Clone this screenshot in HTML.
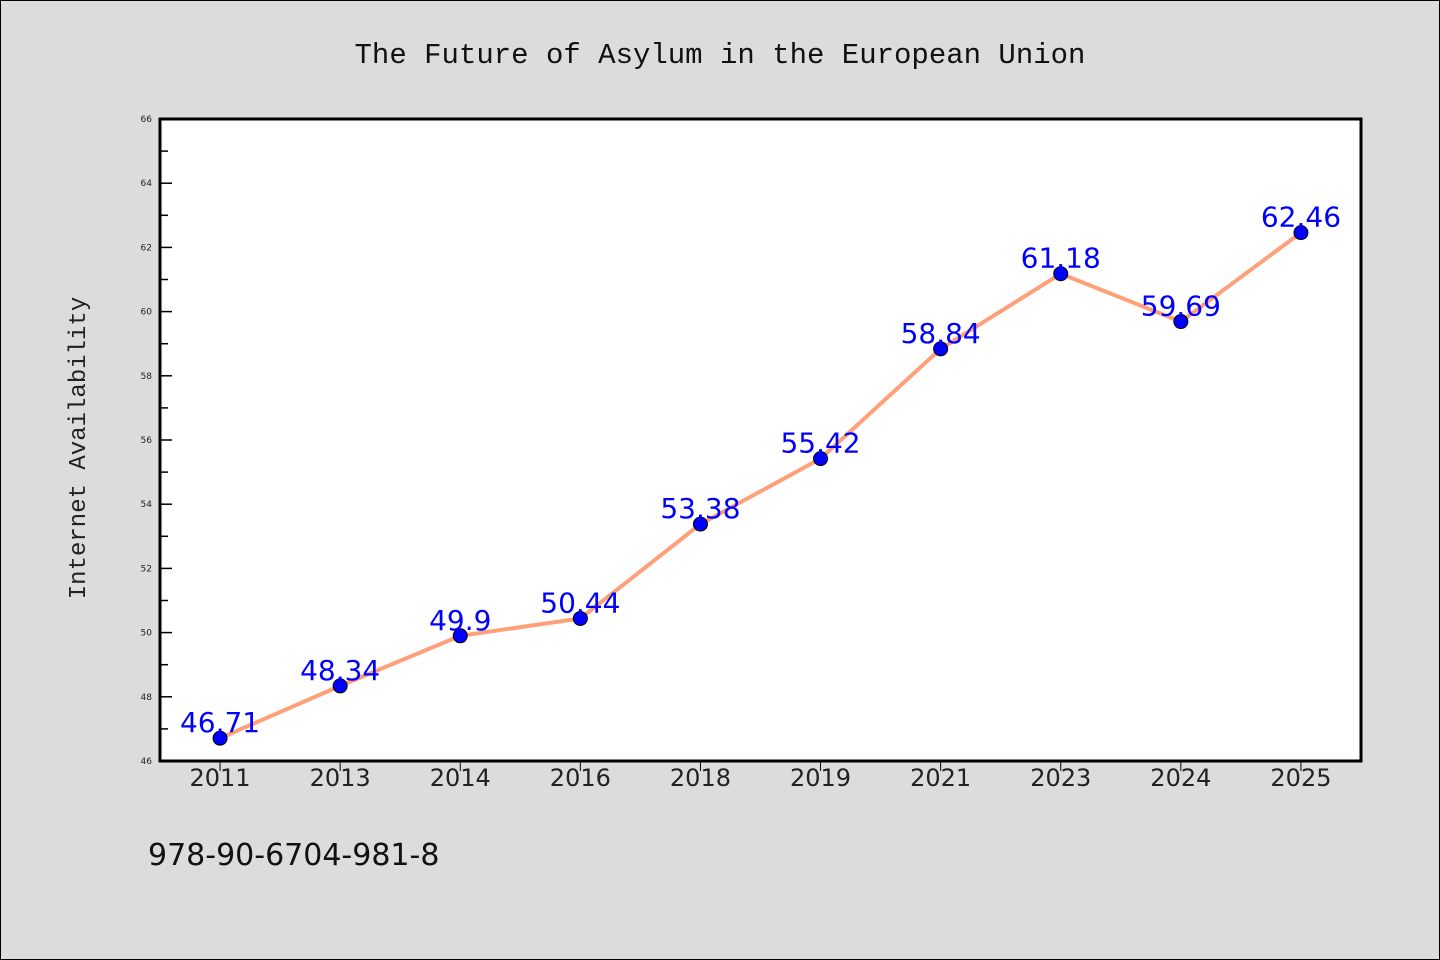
<!DOCTYPE html>
<html><head><meta charset="utf-8"><style>
html,body{margin:0;padding:0;background:#dcdcdc;}
svg{display:block;font-family:"WenQuanYi Zen Hei","DejaVu Sans",sans-serif;}
</style></head><body>
<svg id="c" width="1440" height="960" xmlns="http://www.w3.org/2000/svg">
<rect x="0.5" y="0.5" width="1439" height="959" fill="#dcdcdc" stroke="#000"/>
<text x="720" y="63" text-anchor="middle" font-size="29" fill="#111" font-family="'Liberation Mono','WenQuanYi Zen Hei',monospace">The Future of Asylum in the European Union</text>
<rect x="160" y="119" width="1201" height="642" fill="#fff"/>
<g id="axes"></g>
<g id="marks"></g>
<rect x="160" y="119" width="1201" height="642" fill="none" stroke="#000" stroke-width="3"/>
<text transform="translate(85,448) rotate(-90)" text-anchor="middle" font-size="24" fill="#222" font-family="'Liberation Mono','WenQuanYi Zen Hei',monospace">Internet Availability</text>
<text x="148" y="865" font-size="30" fill="#111">978-90-6704-981-8</text>
</svg>
<script>
const categories = ["2011","2013","2014","2016","2018","2019","2021","2023","2024","2025"];
const values = [46.71,48.34,49.9,50.44,53.38,55.42,58.84,61.18,59.69,62.46];
const labels = ["46.71","48.34","49.9","50.44","53.38","55.42","58.84","61.18","59.69","62.46"];
const yTicks = [46,48,50,52,54,56,58,60,62,64,66];
const NS="http://www.w3.org/2000/svg";
const L=160,R=1361,T=119,B=761,yMin=46,yMax=66;
const band=(R-L)/categories.length;
const xs=i=>L+band*(i+0.5);
const ys=v=>B-(v-yMin)/(yMax-yMin)*(B-T);
function mk(tag,attrs,parent){const e=document.createElementNS(NS,tag);for(const k in attrs)e.setAttribute(k,attrs[k]);parent.appendChild(e);return e;}
const axes=document.getElementById('axes'),marks=document.getElementById('marks');
yTicks.forEach((t,i)=>{
  const y=ys(t);
  const ln=mk('line',{x1:L,x2:L+12,y1:y,y2:y,stroke:'#000','stroke-width':1.5},axes);
  
  
  const tx=mk('text',{x:L-8,y:y+3,'text-anchor':'end','font-size':9,fill:'#222'},axes);
  tx.textContent=t;
  
  
  if(i<yTicks.length-1){
    const ym=ys(t+(yTicks[i+1]-t)/2);
    const mn=mk('line',{x1:L,x2:L+8,y1:ym,y2:ym,stroke:'#000','stroke-width':1.5},axes);
    
    
  }
});
categories.forEach((c,i)=>{
  const x=xs(i);
  const ln=mk('line',{x1:x,x2:x,y1:B,y2:B+10,stroke:'#000','stroke-width':1},axes);
  
  
  const tx=mk('text',{x:x,y:B+25,'text-anchor':'middle','font-size':24,fill:'#222'},axes);
  tx.textContent=c;
  
  
});
const pl=mk('polyline',{points:values.map((v,i)=>xs(i)+','+ys(v)).join(' '),fill:'none',stroke:'#ffa07a','stroke-width':4},marks);


values.forEach((v,i)=>{
  const c=mk('circle',{cx:xs(i),cy:ys(v),r:7,fill:'#0000ff',stroke:'#000','stroke-width':1},marks);
  
  
});
values.forEach((v,i)=>{
  const t=mk('text',{x:xs(i),y:ys(v)-6,'text-anchor':'middle','font-size':28,fill:'#0000ff'},marks);
  t.textContent=labels[i];
  
  
});
</script>
</body></html>
